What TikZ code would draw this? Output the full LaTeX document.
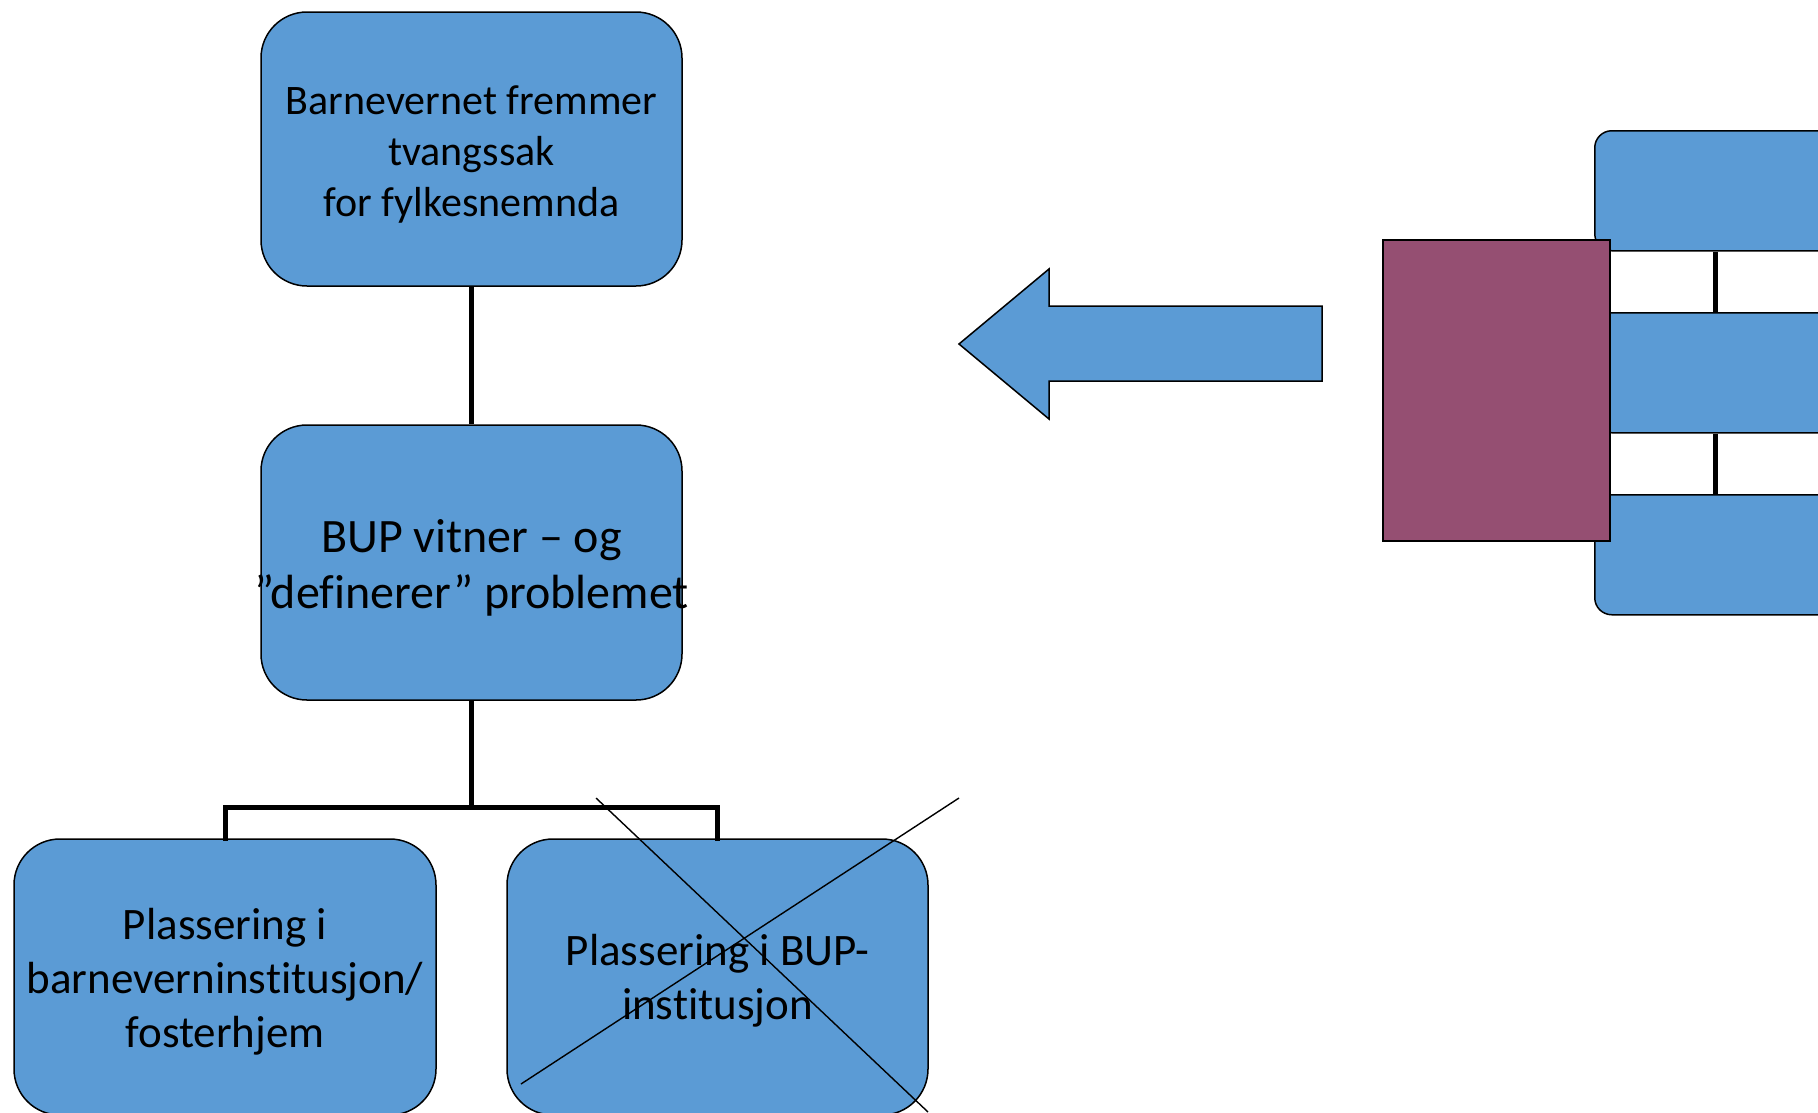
\documentclass[tikz,border=0pt]{standalone}
\usepackage{fontspec}
\setmainfont[Ligatures=NoCommon]{Carlito}
\definecolor{boxblue}{HTML}{5B9BD5}
\definecolor{plum}{HTML}{954F72}
\begin{document}
\begin{tikzpicture}[x=1pt,y=-1pt,
  box/.style={draw=black, line width=1.5pt, fill=boxblue, rounded corners=46pt, inner sep=0pt},
  rbox/.style={draw=black, line width=1.5pt, fill=boxblue, rounded corners=17pt, inner sep=0pt, minimum width=400, minimum height=120},
  lbl/.style={align=center, inner sep=0pt, text=black},
  conn/.style={line width=5pt, black},
  cross/.style={line width=1.4pt, black}]
\useasboundingbox (0,0) rectangle (1818,1112);
\clip (0,0) rectangle (1818,1112);
% left tree
\node[box, minimum width=421, minimum height=274] (top) at (471.5,149) {};
\node[lbl, font=\fontsize{42}{51}\selectfont] (toptxt) at ([yshift=-5pt]top.center) {Barnevernet fremmer\\tvangssak\\ for fylkesnemnda};
\node[box, minimum width=421, minimum height=275] (mid) at (471.5,562.5) {};
\node[lbl, font=\fontsize{48}{56}\selectfont] (midtxt) at ([yshift=-5pt]mid.center) {BUP vitner – og\\”definerer” problemet};
\node[box, minimum width=422, minimum height=276] (bl) at (225,977) {};
\node[lbl, font=\fontsize{45}{54}\selectfont] (bltxt) at ([yshift=-5pt]bl.center) {Plassering i\\barneverninstitusjon/\\fosterhjem};
\node[box, minimum width=421, minimum height=276] (br) at (717.5,977) {};
\node[lbl, font=\fontsize{45}{54}\selectfont] (brtxt) at ([yshift=-4pt]br.center) {Plassering i BUP-\\institusjon};
\draw[conn] (top.south) -- (mid.north);
\draw[conn] (mid.south) -- (mid.south |- 0,807);
\draw[conn, line cap=rect] (bl.north) -- (bl.north |- 0,807) -| (br.north);
% cross
\coordinate (c1a) at (596,798);
\coordinate (c1b) at (928,1112);
\coordinate (c2a) at (959,798);
\coordinate (c2b) at (521,1084);
\draw[cross] (c1a) -- (c1b);
\draw[cross] (c2a) -- (c2b);
% arrow
\draw[line width=1.5pt, fill=boxblue, line join=miter] (959,344) -- (1049,269) -- (1049,306) -- (1322,306) -- (1322,381) -- (1049,381) -- (1049,419) -- cycle;
% right group
\node[rbox, anchor=north west] (r1) at (1594,130) {};
\node[rbox, anchor=north west] (r2) at (1594,312) {};
\node[rbox, anchor=north west] (r3) at (1594,494) {};
\draw[conn] (r1.south -| 1715,0) -- (r2.north -| 1715,0);
\draw[conn] (r2.south -| 1715,0) -- (r3.north -| 1715,0);
\node[draw=black, line width=1.5pt, fill=plum, minimum width=227, minimum height=301, anchor=north west, inner sep=0pt] (pr) at (1382,239) {};
\end{tikzpicture}
\end{document}
